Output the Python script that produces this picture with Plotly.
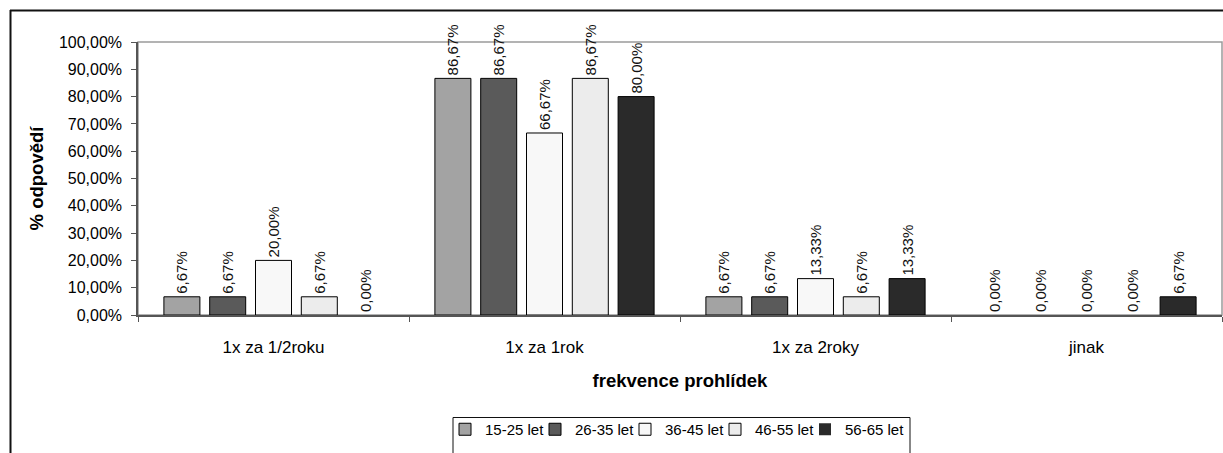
import plotly.graph_objects as go

# Survey: how often respondents go for check-ups, split by age group
categories = ["1x za 1/2roku", "1x za 1rok", "1x za 2roky", "jinak"]
age_groups = ["15-25 let", "26-35 let", "36-45 let", "46-55 let", "56-65 let"]
share_15_25 = [6.67, 86.67, 6.67, 0.00]
share_26_35 = [6.67, 86.67, 6.67, 0.00]
share_36_45 = [20.00, 66.67, 13.33, 0.00]
share_46_55 = [6.67, 86.67, 6.67, 0.00]
share_56_65 = [0.00, 80.00, 13.33, 6.67]
series = [share_15_25, share_26_35, share_36_45, share_46_55, share_56_65]
fills = ["#a3a3a3", "#5a5a5a", "#f8f8f8", "#ececec", "#2a2a2a"]

FONT = "Arial, Liberation Sans, sans-serif"
W, H = 1223, 453
ML, MR, MT, MB = 138, 1, 42, 138
PW, PH = W - ML - MR, H - MT - MB

# one single-entry legend per series, laid out in a row
LEG_FIRST_TEXT_X = 485      # pixel x where the first entry's label starts
LEG_STEP = 90               # pixel distance between consecutive entries
LEG_BOX = (453, 910, 417.5)  # left, right, top of the legend frame (px)


def px_x(x):
    return (x - ML) / PW


def px_y(y):
    return (H - MB - y) / PH


fig = go.Figure()
legend_ids = ["legend"] + [f"legend{i}" for i in range(2, len(age_groups) + 1)]
for name, vals, col, lid in zip(age_groups, series, fills, legend_ids):
    fig.add_trace(go.Bar(
        name=name, x=categories, y=vals, legend=lid,
        # empty bars get no outline so nothing shows on the baseline
        marker=dict(color=col,
                    line=dict(color="#000000", width=[1 if v > 0 else 0 for v in vals])),
        texttemplate="%{y:.2f}%\u00a0", textposition="outside", textangle=-90,
        textfont=dict(family=FONT, size=15, color="#111111"),
        cliponaxis=False, constraintext="none",
    ))

shapes = [
    # plot-area frame
    dict(type="rect", xref="paper", yref="paper", x0=0, x1=1, y0=0, y1=1,
         line=dict(color="#9a9a9a", width=1.5), layer="below"),
    # chart-area frame (left and top edges)
    dict(type="line", xref="paper", yref="paper", x0=px_x(10.5), x1=px_x(10.5),
         y0=px_y(10), y1=px_y(460), line=dict(color="#111111", width=2)),
    dict(type="line", xref="paper", yref="paper", x0=px_x(10), x1=px_x(1230),
         y0=px_y(10.5), y1=px_y(10.5), line=dict(color="#111111", width=2)),
    # legend frame, running off the bottom edge
    dict(type="rect", xref="paper", yref="paper",
         x0=px_x(LEG_BOX[0]), x1=px_x(LEG_BOX[1]),
         y0=px_y(470), y1=px_y(LEG_BOX[2]), line=dict(color="#111111", width=1)),
]

legend_layout = {}
for i, lid in enumerate(legend_ids):
    text_x = LEG_FIRST_TEXT_X + i * LEG_STEP
    legend_layout[lid] = dict(
        orientation="h", x=px_x(text_x - 40), xanchor="left", y=px_y(413), yanchor="top",
        borderwidth=0, bgcolor="rgba(0,0,0,0)",
        font=dict(family=FONT, size=15), itemwidth=30,
    )

fig.update_layout(
    width=W, height=H,
    margin=dict(l=ML, r=MR, t=MT, b=MB, autoexpand=False),
    paper_bgcolor="white", plot_bgcolor="white",
    separators=", ",
    font=dict(family=FONT, size=16, color="#000000"),
    barmode="group", bargap=0.155, bargroupgap=0.214,
    showlegend=True,
    shapes=shapes,
    **legend_layout,
)
fig.update_xaxes(
    showline=True, linecolor="#555555", linewidth=1.5,
    ticks="outside", tickson="boundaries", ticklen=5, tickcolor="#555555",
    tickfont=dict(family=FONT, size=17), ticklabelstandoff=16,
    title=dict(text="<b>frekvence prohlídek</b>", font=dict(family=FONT, size=18.5), standoff=18),
    showgrid=False,
)
fig.update_yaxes(
    range=[0, 100], dtick=10, tickformat=".2f", ticksuffix="%",
    showline=True, linecolor="#555555", linewidth=1.5,
    ticks="outside", ticklen=5, tickcolor="#555555",
    tickfont=dict(family=FONT, size=16), ticklabelstandoff=6,
    title=dict(text="<b>% odpovědí</b>", font=dict(family=FONT, size=18.5), standoff=10),
    showgrid=False, zeroline=False,
)

fig.write_html("out.html")
